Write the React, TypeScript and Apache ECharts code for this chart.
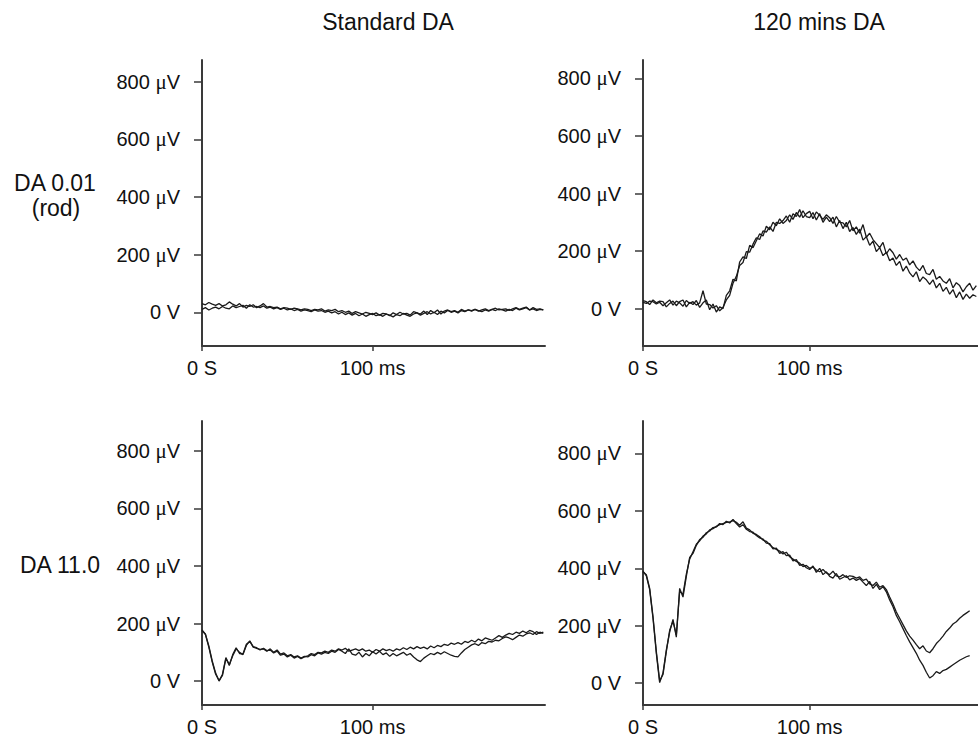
import React, { useEffect, useRef } from "react";
import * as echarts from "echarts";

// Time base (ms), sampled every 2 ms
const TIME = [
  0, 2, 4, 6, 8, 10, 12, 14, 16, 18, 20, 22, 24, 26, 28, 30, 32, 34, 36, 38,
  40, 42, 44, 46, 48, 50, 52, 54, 56, 58, 60, 62, 64, 66, 68, 70, 72, 74, 76, 78,
  80, 82, 84, 86, 88, 90, 92, 94, 96, 98, 100, 102, 104, 106, 108, 110, 112, 114, 116, 118,
  120, 122, 124, 126, 128, 130, 132, 134, 136, 138, 140, 142, 144, 146, 148, 150, 152, 154, 156, 158,
  160, 162, 164, 166, 168, 170, 172, 174, 176, 178, 180, 182, 184, 186, 188, 190, 192, 194, 196, 198, 200,
];

const COLUMN_TITLES = ["Standard DA", "120 mins DA"];
const ROW_LABELS = [["DA 0.01", "(rod)"], ["DA 11.0"]];
const Y_TICKS = [0, 200, 400, 600, 800];
const X_TICKS = [0, 100];

// Standard DA, DA 0.01 (rod)
const STD_ROD_A = [
  30, 26, 34, 28, 24, 30, 22, 26, 36, 28, 22, 30, 18, 24, 20, 26, 16, 22, 30, 18,
  20, 16, 18, 12, 16, 14, 10, 14, 12, 8, 12, 10, 6, 10, 8, 12, 4, 8, 6, 10,
  2, 6, 0, 4, -4, 2, -2, -6, 0, -4, -8, -2, -10, -4, -6, -12, -2, -8, 0, -6,
  -4, -10, 2, -2, -6, 4, -8, 6, -2, 8, -6, 4, 8, 2, 6, 0, 10, 4, 8, 6,
  10, 4, 8, 12, 6, 10, 14, 8, 10, 12, 6, 12, 16, 10, 14, 18, 8, 16, 10, 12, 8,
];
const STD_ROD_B = [
  10, 16, 8, 14, 18, 12, 20, 14, 12, 22, 16, 20, 24, 14, 26, 18, 20, 16, 22, 14,
  18, 12, 16, 10, 14, 8, 12, 6, 10, 4, 8, 6, 2, 8, 4, 6, 0, 4, -2, 2,
  -6, 0, -8, -2, -10, -4, -12, -6, -14, -8, -4, -12, -8, -14, -6, -10, -16, -8, -12, -4,
  -10, -14, -6, -2, -10, -4, 2, -6, 0, -8, 4, -2, 6, 0, 4, -2, 6, 2, 8, 4,
  10, 6, 2, 8, 4, 10, 6, 12, 8, 4, 10, 6, 14, 8, 12, 16, 8, 12, 6, 10, 8,
];

// 120 mins DA, DA 0.01 (rod)
const DA120_ROD_A = [
  22, 18, 26, 24, 16, 22, 10, 20, 30, 12, 26, 20, 8, 28, 18, 24, 12, 20, 62, 16,
  14, 2, 10, -8, 4, 30, 46, 88, 112, 150, 160, 198, 196, 224, 246, 240, 270, 266, 284, 268,
  300, 296, 306, 322, 300, 330, 320, 344, 316, 330, 338, 312, 336, 324, 310, 326, 316, 296, 320, 300,
  298, 284, 306, 270, 284, 262, 292, 248, 262, 240, 226, 212, 230, 190, 208, 194, 172, 188, 168, 176,
  152, 166, 144, 132, 150, 122, 118, 136, 102, 112, 96, 88, 104, 72, 90, 80, 58, 76, 88, 64, 80,
];
const DA120_ROD_B = [
  28, 24, 14, 30, 20, 26, 24, 6, 18, 26, 10, 24, 30, 6, 22, 14, 28, 4, 20, 30,
  -4, 16, -12, 6, 0, 46, 62, 102, 96, 162, 180, 174, 220, 212, 236, 260, 252, 286, 274, 300,
  288, 312, 296, 306, 326, 310, 334, 318, 340, 320, 316, 334, 308, 330, 300, 318, 302, 318, 284, 306,
  278, 300, 268, 282, 258, 276, 238, 250, 220, 234, 198, 212, 184, 196, 166, 176, 150, 164, 130, 148,
  124, 110, 128, 94, 110, 100, 84, 100, 72, 88, 60, 74, 50, 66, 38, 58, 32, 50, 36, 48, 42,
];

// Standard DA, DA 11.0
const STD_11_A = [
  178, 162, 118, 66, 24, 2, 20, 78, 58, 88, 112, 100, 92, 124, 140, 118, 114, 110, 112, 104,
  112, 100, 108, 94, 98, 88, 92, 84, 88, 80, 86, 84, 92, 88, 98, 94, 100, 96, 104, 100,
  110, 104, 96, 112, 94, 90, 100, 84, 96, 88, 102, 94, 104, 92, 98, 86, 96, 88, 94, 100,
  90, 96, 84, 74, 68, 80, 88, 96, 92, 100, 94, 102, 96, 90, 86, 84, 98, 110, 118, 126,
  130, 124, 134, 130, 138, 136, 142, 140, 148, 154, 150, 144, 152, 160, 156, 164, 168, 162, 172, 166, 170,
];
const STD_11_B = [
  176, 164, 122, 70, 28, 0, 24, 82, 54, 92, 116, 96, 94, 128, 138, 120, 116, 108, 114, 106,
  108, 98, 104, 90, 94, 84, 90, 80, 86, 78, 84, 88, 96, 92, 100, 98, 104, 100, 108, 104,
  112, 108, 114, 104, 108, 112, 106, 112, 104, 108, 100, 110, 104, 112, 106, 110, 104, 112, 108, 116,
  110, 118, 112, 120, 114, 118, 112, 122, 116, 124, 120, 128, 124, 132, 128, 134, 128, 138, 134, 142,
  136, 146, 140, 150, 146, 142, 150, 158, 152, 160, 166, 162, 170, 166, 174, 168, 176, 172, 162, 170, 166,
];

// 120 mins DA, DA 11.0
const DA120_11_A = [
  388, 378, 330, 232, 110, 8, 30, 110, 184, 216, 168, 320, 310, 380, 432, 458, 484, 496, 512, 520,
  534, 538, 546, 552, 556, 560, 562, 566, 560, 550, 562, 540, 534, 522, 518, 510, 498, 494, 482, 472,
  466, 460, 450, 456, 440, 432, 424, 418, 406, 410, 400, 404, 394, 388, 396, 384, 378, 390, 374, 370,
  378, 368, 374, 372, 366, 370, 358, 362, 346, 340, 352, 334, 340, 326, 300, 276, 248, 226, 204, 182,
  164, 150, 134, 120, 130, 112, 106, 120, 138, 150, 164, 180, 192, 206, 214, 226, 236, 244, 252,
];
const DA120_11_B = [
  390, 374, 326, 226, 104, 2, 36, 116, 178, 222, 160, 330, 300, 372, 438, 452, 480, 500, 508, 524,
  530, 542, 544, 556, 552, 564, 558, 570, 556, 544, 552, 536, 528, 526, 514, 506, 502, 488, 486, 468,
  470, 452, 458, 444, 446, 426, 430, 410, 414, 402, 396, 408, 386, 400, 378, 388, 372, 366, 382, 362,
  368, 374, 360, 366, 358, 364, 352, 340, 354, 330, 344, 326, 336, 318, 290, 266, 236, 214, 190, 166,
  144, 124, 104, 80, 62, 38, 18, 26, 40, 34, 44, 48, 56, 64, 72, 80, 86, 92, 96,
];

const FONT = "'Liberation Sans', Arial, Helvetica, sans-serif";
const SERIF = "'Liberation Serif', 'DejaVu Serif', serif";
const AXIS_COLOR = "#3a3a3a";
const TEXT_COLOR = "#111111";
const TRACE_COLOR = "#1a1a1a";

function pairs(values: number[]) {
  const out: number[][] = [];
  values.forEach((v, i) => {
    if (TIME[i] !== undefined) out.push([TIME[i], v]);
  });
  return out;
}

function label(text: string, x: number, y: number) {
  return {
    type: "text",
    x,
    y,
    style: {
      text,
      fontSize: 23,
      fontFamily: FONT,
      fill: TEXT_COLOR,
      align: "center",
      verticalAlign: "middle",
    },
  };
}

export default function App() {
  const ref = useRef<HTMLDivElement>(null);

  useEffect(() => {
    if (!ref.current) return;
    const chart = echarts.init(ref.current, undefined, { renderer: "svg" });

    const grids = [
      { left: 202, top: 60, width: 343, height: 286, yMin: -117, yMax: 875 },
      { left: 643, top: 60, width: 346, height: 286, yMin: -130, yMax: 864 },
      { left: 202, top: 421, width: 343, height: 284, yMin: -83, yMax: 904 },
      { left: 643, top: 421, width: 346, height: 284, yMin: -76, yMax: 913 },
    ];
    const traces = [
      [STD_ROD_A, STD_ROD_B],
      [DA120_ROD_A, DA120_ROD_B],
      [STD_11_A, STD_11_B],
      [DA120_11_A, DA120_11_B],
    ];

    const option: any = {
      animation: false,
      backgroundColor: "#ffffff",
      textStyle: { fontFamily: FONT },
      grid: grids.map((g) => ({
        left: g.left,
        top: g.top,
        width: g.width,
        height: g.height,
        containLabel: false,
      })),
      xAxis: grids.map((g, i) => ({
        type: "value",
        gridIndex: i,
        min: 0,
        max: 201,
        axisLine: { show: true, onZero: false, lineStyle: { color: AXIS_COLOR, width: 2 } },
        axisTick: {
          show: true,
          length: 5,
          customValues: X_TICKS,
          lineStyle: { color: AXIS_COLOR, width: 1.5 },
        },
        axisLabel: {
          show: true,
          customValues: X_TICKS,
          margin: 12,
          fontSize: 20,
          color: TEXT_COLOR,
          fontFamily: FONT,
          formatter: (v: number) => (v === 0 ? "0 S" : `${v} ms`),
        },
        splitLine: { show: false },
      })),
      yAxis: grids.map((g, i) => ({
        type: "value",
        gridIndex: i,
        min: g.yMin,
        max: g.yMax,
        axisLine: { show: true, onZero: false, lineStyle: { color: AXIS_COLOR, width: 2 } },
        axisTick: {
          show: true,
          length: 8,
          customValues: Y_TICKS,
          lineStyle: { color: AXIS_COLOR, width: 1.5 },
        },
        axisLabel: {
          show: true,
          customValues: Y_TICKS,
          margin: 22,
          fontSize: 20,
          color: TEXT_COLOR,
          fontFamily: FONT,
          formatter: (v: number) => (v === 0 ? "0 V" : `${v} {u|μ}V`),
          rich: {
            u: { fontFamily: SERIF, fontSize: 21, color: TEXT_COLOR },
          },
        },
        splitLine: { show: false },
      })),
      series: traces.flatMap((pair, gi) =>
        pair.map((vals) => ({
          type: "line",
          xAxisIndex: gi,
          yAxisIndex: gi,
          data: pairs(vals),
          showSymbol: false,
          symbol: "none",
          smooth: false,
          clip: true,
          lineStyle: { color: TRACE_COLOR, width: 1.3 },
          silent: true,
        }))
      ),
      graphic: [
        label(COLUMN_TITLES[0], 388, 22),
        label(COLUMN_TITLES[1], 819, 22),
        label(ROW_LABELS[0][0], 55, 183),
        label(ROW_LABELS[0][1], 56, 208),
        label(ROW_LABELS[1][0], 60, 565),
      ],
    };

    chart.setOption(option);
    return () => chart.dispose();
  }, []);

  return (
    <div
      ref={ref}
      style={{ position: "absolute", left: 0, top: 0, width: 978, height: 741, background: "#fff" }}
    />
  );
}
